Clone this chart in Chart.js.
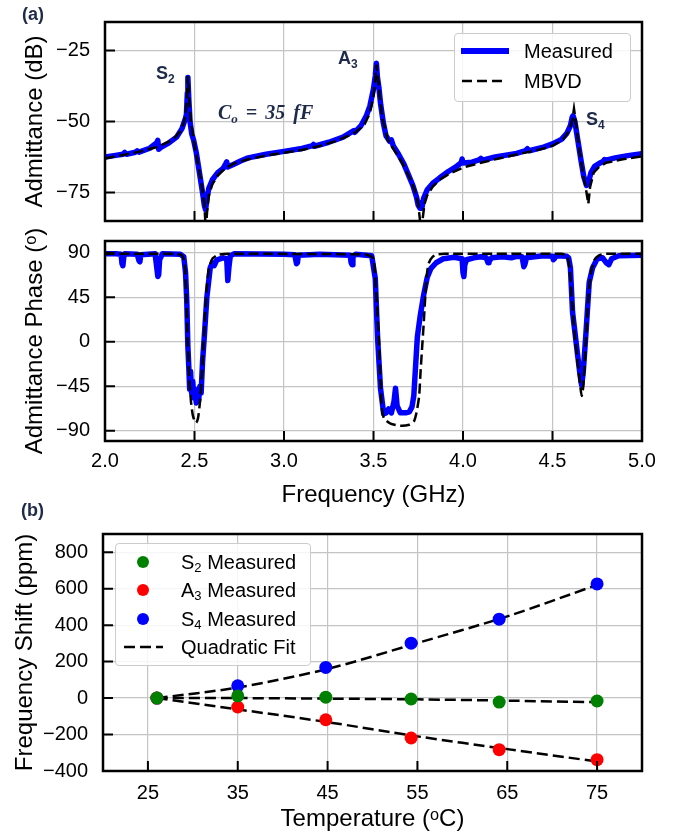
<!DOCTYPE html>
<html>
<head>
<meta charset="utf-8">
<script src="https://cdn.jsdelivr.net/npm/chart.js@4.4.1/dist/chart.umd.min.js"></script>
<style>
  body { margin: 0; background: #fff; }
  #wrap { position: relative; width: 680px; height: 840px; font-family: 'Liberation Sans', Arial, sans-serif; }
  canvas { position: absolute; left: 0; }
  .lbl { position: absolute; line-height: 1; white-space: nowrap; }
  .note { color: #1e2a4a; font-weight: bold; font-size: 18px; }
  .note sub { font-size: 12px; vertical-align: -4px; line-height: 0; }
  .legend { position: absolute; background: rgba(255,255,255,0.85); border: 1px solid #cccccc; border-radius: 4px; }
  .row { position: absolute; height: 24px; line-height: 24px; font-size: 20px; color: #000; white-space: nowrap; }
  .row sub { font-size: 13px; vertical-align: -3px; line-height: 0; }
  .dot { position: absolute; width: 12px; height: 12px; border-radius: 50%; }
  .eq { color: #1e2a4a; font-family: 'Liberation Serif', 'DejaVu Serif', serif; font-weight: bold; font-style: italic; font-size: 20px; word-spacing: 3px; }
  .eq sub { font-size: 13px; vertical-align: -4px; line-height: 0; }
</style>
</head>
<body>
<div id="wrap">
  <canvas id="admChart" width="680" height="232" style="top:0"></canvas>
  <canvas id="phaseChart" width="680" height="308" style="top:212px"></canvas>
  <canvas id="tempChart" width="680" height="320" style="top:520px"></canvas>

  <div class="lbl note" style="left:22px; top:5px;">(a)</div>
  <div class="lbl note" style="left:21px; top:501px;">(b)</div>
  <div class="lbl note" style="left:156px; top:64px;">S<sub>2</sub></div>
  <div class="lbl note" style="left:338px; top:49px;">A<sub>3</sub></div>
  <div class="lbl note" style="left:586px; top:110px;">S<sub>4</sub></div>
  <div class="lbl eq" style="left:218px; top:102px;">C<sub>o</sub> = 35 fF</div>

  <div class="legend" style="left:454px; top:33px; width:175px; height:67px;">
    <div style="position:absolute; left:6px; top:14px; width:48px; height:5.5px; background:#0000ff;"></div>
    <div class="row" style="left:69px; top:5px;">Measured</div>
    <svg style="position:absolute; left:6px; top:45px;" width="48" height="4"><line x1="1" y1="2" x2="46" y2="2" stroke="#000" stroke-width="2.5" stroke-dasharray="10,5"/></svg>
    <div class="row" style="left:69px; top:35px;">MBVD</div>
  </div>

  <div class="legend" style="left:115px; top:543px; width:194px; height:121px;">
    <div class="dot" style="left:21px; top:12px; background:#008000;"></div>
    <div class="row" style="left:65px; top:6px;">S<sub>2</sub> Measured</div>
    <div class="dot" style="left:21px; top:40px; background:#ff0000;"></div>
    <div class="row" style="left:65px; top:34px;">A<sub>3</sub> Measured</div>
    <div class="dot" style="left:21px; top:69px; background:#0000ff;"></div>
    <div class="row" style="left:65px; top:63px;">S<sub>4</sub> Measured</div>
    <svg style="position:absolute; left:7px; top:101px;" width="42" height="4"><line x1="1" y1="2" x2="40" y2="2" stroke="#000" stroke-width="2.5" stroke-dasharray="11,5"/></svg>
    <div class="row" style="left:65px; top:91px;">Quadratic Fit</div>
  </div>
</div>

<script>
// panel (a) top: admittance magnitude
var measFreq = [2.00, 2.05, 2.10, 2.11, 2.12, 2.17, 2.18, 2.19, 2.25, 2.29,
  2.295, 2.30, 2.31, 2.35, 2.40, 2.43, 2.45, 2.455, 2.46, 2.463,
  2.468, 2.475, 2.485, 2.495, 2.51, 2.53, 2.545, 2.555, 2.562, 2.57,
  2.58, 2.60, 2.63, 2.66, 2.675, 2.68, 2.685, 2.72, 2.76, 2.80,
  2.90, 3.00, 3.10, 3.16, 3.165, 3.17, 3.25, 3.33, 3.39, 3.395,
  3.43, 3.46, 3.48, 3.50, 3.51, 3.516, 3.522, 3.53, 3.54, 3.555,
  3.57, 3.59, 3.60, 3.61, 3.64, 3.67, 3.70, 3.72, 3.74, 3.75,
  3.76, 3.765, 3.77, 3.78, 3.80, 3.83, 3.87, 3.92, 3.96, 3.99,
  3.995, 4.00, 4.05, 4.09, 4.10, 4.11, 4.18, 4.30, 4.35, 4.36,
  4.37, 4.45, 4.50, 4.55, 4.58, 4.60, 4.61, 4.615, 4.625, 4.64,
  4.66, 4.675, 4.69, 4.70, 4.715, 4.735, 4.76, 4.785, 4.79, 4.80,
  4.85, 4.92, 5.00];
var measAdm = [-62.5, -62.0, -61.5, -60.9, -61.5, -60.8, -60.3, -60.8, -59.4, -57.4,
  -56.6, -59.8, -59.2, -57.8, -55.5, -52.5, -48.8, -47.5, -40, -34.5,
  -42, -50, -54.5, -56.5, -61, -69, -75, -79.5, -81, -77,
  -73.5, -70.5, -68, -66.5, -64.8, -64.2, -66.0, -65, -63.8, -62.8,
  -61.5, -60.5, -59.5, -58.5, -58.1, -58.7, -57.3, -55.5, -53.2, -53.8,
  -51.5, -48, -44.5, -38.5, -34, -29.5, -34.5, -38, -44, -50.5,
  -55, -57.0, -56.5, -58.5, -61.5, -65, -69.5, -72.5, -76.5, -79.5,
  -80.5, -78.5, -80.5, -77, -74, -71.8, -69.8, -67.5, -66, -64.5,
  -63.2, -64.6, -64.3, -63.5, -63.0, -63.6, -62.5, -61.2, -60.2, -59.6,
  -60.3, -59.0, -57.9, -56.3, -54.2, -51.5, -48.5, -48, -50, -56,
  -64, -69.5, -72.5, -71.5, -68, -65.8, -64.8, -64, -63.4, -63.6,
  -62.8, -62.0, -61.3];

var mbvdFreq = [2.00, 2.10, 2.20, 2.30, 2.38, 2.42, 2.44, 2.45, 2.458, 2.463,
  2.468, 2.48, 2.50, 2.52, 2.54, 2.555, 2.563, 2.57, 2.58, 2.60,
  2.63, 2.67, 2.72, 2.80, 2.90, 3.00, 3.10, 3.20, 3.30, 3.40,
  3.45, 3.48, 3.50, 3.51, 3.516, 3.522, 3.535, 3.55, 3.58, 3.62,
  3.66, 3.70, 3.73, 3.75, 3.765, 3.775, 3.785, 3.80, 3.83, 3.87,
  3.92, 4.00, 4.10, 4.20, 4.30, 4.40, 4.50, 4.56, 4.59, 4.61,
  4.62, 4.63, 4.65, 4.67, 4.69, 4.70, 4.71, 4.73, 4.76, 4.80,
  4.90, 5.00];
var mbvdAdm = [-63.0, -61.8, -60.5, -58.8, -56.3, -53.5, -50.5, -47.5, -42, -34,
  -40, -50, -58.5, -65, -72, -79, -88, -82, -76, -72,
  -69, -66.5, -64.8, -63.3, -62.0, -61.0, -60.0, -58.6, -56.7, -53.8,
  -51, -47, -41, -35.5, -30, -33, -41, -49, -56.5, -60.5,
  -64.5, -69.5, -74, -79, -88, -84, -79, -76, -73, -70.5,
  -68.5, -66.2, -64.5, -63.0, -61.6, -60.3, -58.6, -56.3, -53.5, -50,
  -45.5, -50, -60, -68, -75, -79, -73, -68, -66, -64.5,
  -63.2, -62.3];

// panel (a) bottom: admittance phase
var measFreqP = [2.00, 2.06, 2.09, 2.095, 2.10, 2.105, 2.11,
  2.18, 2.19, 2.195, 2.20,
  2.28, 2.29, 2.295, 2.30, 2.305, 2.32,
  2.42, 2.44, 2.45, 2.457, 2.463, 2.468, 2.473, 2.478, 2.484, 2.49,
  2.497, 2.503, 2.51, 2.517, 2.523, 2.53, 2.537, 2.545, 2.554, 2.569,
  2.588, 2.60, 2.61, 2.625, 2.66, 2.68, 2.686, 2.692, 2.70, 2.72,
  3.00, 3.06, 3.07, 3.075, 3.08, 3.20, 3.37, 3.375, 3.38, 3.385,
  3.40, 3.49, 3.51, 3.523, 3.539, 3.557, 3.57, 3.585, 3.60, 3.615,
  3.623, 3.632, 3.65, 3.68, 3.70, 3.715, 3.725, 3.74, 3.745, 3.76,
  3.78, 3.80, 3.82, 3.85, 3.89, 3.95, 3.995, 4.00, 4.005, 4.01,
  4.02, 4.06, 4.10, 4.13, 4.14, 4.145, 4.16, 4.22, 4.27, 4.30,
  4.33, 4.34, 4.345, 4.355, 4.40, 4.45, 4.50, 4.505, 4.51, 4.52,
  4.58, 4.59, 4.60, 4.612, 4.625, 4.64, 4.655, 4.663, 4.672, 4.687,
  4.705, 4.724, 4.75, 4.78, 4.80, 4.815, 4.83, 4.87, 5.00];
var measPhase = [89, 89, 88.5, 79, 77, 86, 89,
  88.5, 82, 81, 88,
  89, 74, 66, 68, 83, 89,
  88.5, 86, 70, 40, -5, -25, -48, -30, -52, -40,
  -57, -48, -62, -50, -60, -45, -52, -20, 3, 45,
  75, 80, 77, 83, 85, 84, 62, 75, 87, 89,
  88.5, 88, 79, 80, 87.5, 88.5, 87.5, 80, 78, 86,
  88.5, 87, 64, 3.5, -47, -73, -72, -68, -72, -60,
  -47, -65, -72, -72, -71, -66, -55, -10, 5, 25,
  47, 65, 74, 80, 84, 85.5, 84, 70, 66, 78,
  83, 85, 86, 85, 80, 81, 85, 86, 85, 86.5,
  86, 76, 78, 85, 86, 87, 86.5, 83, 84, 87,
  86.5, 85, 75, 30, 10, -13, -35, -44, -30, 9,
  60, 75, 84, 85, 80, 78, 84, 87, 87.5];

var mbvdFreqP = [2.00, 2.40, 2.43, 2.445, 2.452, 2.46, 2.47, 2.48, 2.49, 2.50,
  2.51, 2.52, 2.53, 2.54, 2.55, 2.56, 2.57, 2.58, 2.60, 2.63,
  2.70, 3.45, 3.48, 3.50, 3.515, 3.53, 3.54, 3.548, 3.56, 3.595,
  3.65, 3.70, 3.725, 3.74, 3.755, 3.763, 3.772, 3.781, 3.79, 3.80,
  3.81, 3.83, 3.86, 3.90, 4.55, 4.58, 4.595, 4.61, 4.625, 4.64,
  4.655, 4.663, 4.672, 4.685, 4.70, 4.715, 4.735, 4.76, 4.80, 5.00];
var mbvdPhase = [89, 89, 87.5, 80, 55, 10, -35, -60, -74, -80,
  -82, -77, -62, -38, -5, 30, 58, 74, 84, 88,
  89, 88.5, 87, 84, 50, 3, -45, -70, -78, -83,
  -85, -84, -81, -72, -55, -30, -5, 20, 48, 71,
  80, 86, 88.5, 89, 89, 87, 75, 38, 5, -20,
  -45, -55, -45, -5, 45, 70, 83, 87.5, 89, 89];

// panel (b): frequency shift vs temperature
var temps = [26, 35, 44.8, 54.3, 64.1, 75];
var shiftS2 = [0, 12, 5, -5, -22, -16];
var shiftA3 = [0, -49, -119, -219, -283, -338];
var shiftS4 = [0, 67, 168, 301, 433, 626];
var fitTemps = [26, 35, 45, 55, 65, 75];
var fitS2 = [0, 0, -3, -7, -14, -23];
var fitA3 = [0, -62, -132, -210, -280, -348];
var fitS4 = [0, 58, 160, 302, 448, 621];

// tick labels
var freqTicks = [2.0, 2.5, 3.0, 3.5, 4.0, 4.5, 5.0];
var admTicks = [-75, -50, -25];
var phaseTicks = [-90, -45, 0, 45, 90];
var tempTicks = [25, 35, 45, 55, 65, 75];
var shiftTicks = [-400, -200, 0, 200, 400, 600, 800];

function pts(xs, ys) {
    return xs.map(function (x, i) { return { x: x, y: ys[i] }; });
}

function fixTicks(arr) {
    return function (scale) {
        scale.ticks = arr.map(function (v) { return { value: v }; });
    };
}

function minus(v) {
    return v < 0 ? '\u2212' + Math.abs(v) : String(v);
}

// keep the plot box where it is: no extra room for edge labels
function noEdgePad(s) {
    s.paddingTop = 0;
    s.paddingBottom = 0;
    s.paddingLeft = 0;
    s.paddingRight = 0;
}

Chart.defaults.font.family = "'Liberation Sans', Arial, 'DejaVu Sans', sans-serif";
Chart.defaults.color = '#000';

// frame round the plot and inward tick marks, like the original figure
var frameTicks = {
    id: 'frameTicks',
    afterDraw: function (chart) {
        var ctx = chart.ctx;
        var a = chart.chartArea;
        var x = chart.scales.x;
        var y = chart.scales.y;
        ctx.save();
        ctx.strokeStyle = '#000';
        ctx.lineWidth = 2;
        ctx.beginPath();
        x.ticks.forEach(function (t) {
            var px = x.getPixelForValue(t.value);
            ctx.moveTo(px, a.bottom);
            ctx.lineTo(px, a.bottom - 10);
        });
        y.ticks.forEach(function (t) {
            var py = y.getPixelForValue(t.value);
            ctx.moveTo(a.left, py);
            ctx.lineTo(a.left + 10, py);
        });
        ctx.stroke();
        ctx.lineWidth = 2.5;
        ctx.strokeRect(a.left, a.top, a.right - a.left, a.bottom - a.top);
        ctx.restore();
    }
};

var gridStyle = { color: '#c4c4c4', lineWidth: 1.2, drawTicks: false };

function yAxis(min, max, ticks, title, width, titlePad) {
    return {
        type: 'linear', min: min, max: max,
        afterBuildTicks: fixTicks(ticks),
        afterFit: function (s) { s.width = width; noEdgePad(s); },
        grid: gridStyle,
        border: { display: false },
        ticks: { font: { size: 20 }, padding: 15, callback: minus },
        title: { display: true, text: title, font: { size: 24 }, padding: { top: titlePad, bottom: 0 } }
    };
}

function xAxis(min, max, ticks, height, extra) {
    var ax = {
        type: 'linear', min: min, max: max,
        afterBuildTicks: fixTicks(ticks),
        afterFit: function (s) { s.height = height; noEdgePad(s); },
        grid: gridStyle,
        border: { display: false }
    };
    return Object.assign(ax, extra);
}

var measStyle = {
    borderColor: '#0000ff',
    borderWidth: 5.5,
    borderJoinStyle: 'round',
    borderCapStyle: 'round',
    pointRadius: 0,
    tension: 0,
    clip: 0,
    order: 1
};
var mbvdStyle = {
    borderColor: '#000',
    borderWidth: 2.5,
    borderDash: [10, 4.5],
    pointRadius: 0,
    tension: 0,
    clip: 0,
    order: 0
};

new Chart(document.getElementById('admChart'), {
    type: 'line',
    data: {
        datasets: [
            Object.assign({ label: 'Measured', data: pts(measFreq, measAdm) }, measStyle),
            Object.assign({ label: 'MBVD', data: pts(mbvdFreq, mbvdAdm) }, mbvdStyle)
        ]
    },
    options: {
        responsive: false,
        animation: false,
        layout: { padding: { left: 0, right: 38, top: 22, bottom: 0 } },
        plugins: { legend: { display: false }, tooltip: { enabled: false } },
        scales: {
            x: xAxis(2, 5, freqTicks, 11, { ticks: { display: false } }),
            y: yAxis(-85, -15, admTicks, 'Admittance (dB)', 105, 21)
        }
    },
    plugins: [frameTicks]
});

new Chart(document.getElementById('phaseChart'), {
    type: 'line',
    data: {
        datasets: [
            Object.assign({ label: 'Measured', data: pts(measFreqP, measPhase) }, measStyle),
            Object.assign({ label: 'MBVD', data: pts(mbvdFreqP, mbvdPhase) }, mbvdStyle, { tension: 0.2 })
        ]
    },
    options: {
        responsive: false,
        animation: false,
        layout: { padding: { left: 0, right: 38, top: 29, bottom: 0 } },
        plugins: { legend: { display: false }, tooltip: { enabled: false } },
        scales: {
            x: xAxis(2, 5, freqTicks, 79, {
                ticks: { font: { size: 20 }, padding: 8, callback: function (v) { return v.toFixed(1); } },
                title: { display: true, text: 'Frequency (GHz)', font: { size: 24 }, padding: { top: 0, bottom: 10 } }
            }),
            y: yAxis(-100.5, 102, phaseTicks, 'Admittance Phase (\u1D52)', 105, 21)
        }
    },
    plugins: [frameTicks]
});

var fitStyle = {
    showLine: true, pointRadius: 0, borderColor: '#000', borderWidth: 2.5,
    borderDash: [11, 5], tension: 0.3, order: 1
};

new Chart(document.getElementById('tempChart'), {
    type: 'scatter',
    data: {
        datasets: [{
            label: 'S2 Measured', data: pts(temps, shiftS2),
            pointRadius: 6.5, pointBackgroundColor: '#008000', pointBorderWidth: 0, order: 0
        }, {
            label: 'A3 Measured', data: pts(temps, shiftA3),
            pointRadius: 6.5, pointBackgroundColor: '#ff0000', pointBorderWidth: 0, order: 0
        }, {
            label: 'S4 Measured', data: pts(temps, shiftS4),
            pointRadius: 6.5, pointBackgroundColor: '#0000ff', pointBorderWidth: 0, order: 0
        },
            Object.assign({ label: 'Quadratic Fit', data: pts(fitTemps, fitS2) }, fitStyle),
            Object.assign({ label: 'fit A3', data: pts(fitTemps, fitA3) }, fitStyle),
            Object.assign({ label: 'fit S4', data: pts(fitTemps, fitS4) }, fitStyle)
        ]
    },
    options: {
        responsive: false,
        animation: false,
        layout: { padding: { left: 0, right: 38, top: 14, bottom: 0 } },
        plugins: { legend: { display: false }, tooltip: { enabled: false } },
        scales: {
            x: xAxis(20, 80, tempTicks, 69, {
                ticks: { font: { size: 20 }, padding: 10 },
                title: { display: true, text: 'Temperature (\u1D52C)', font: { size: 24 }, padding: { top: 0, bottom: 6 } }
            }),
            y: yAxis(-400, 900, shiftTicks, 'Frequency Shift (ppm)', 103, 11)
        }
    },
    plugins: [frameTicks]
});
</script>
</body>
</html>
